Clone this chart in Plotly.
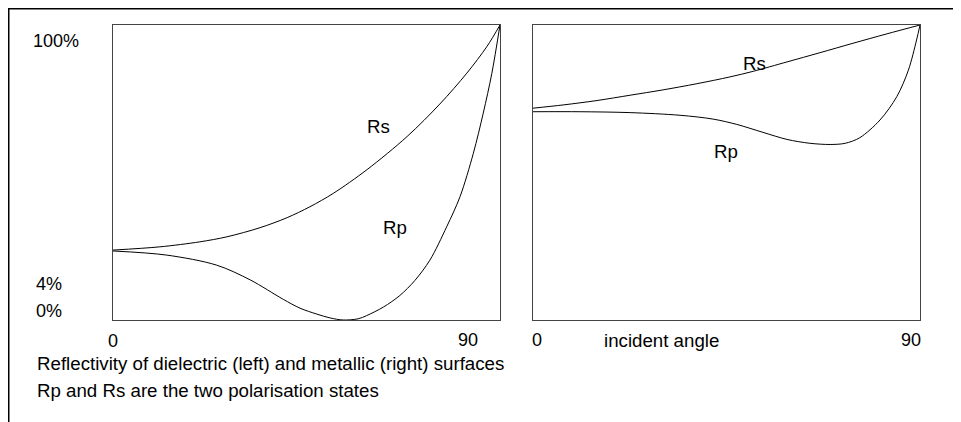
import plotly.graph_objects as go

# ---- data (angle in degrees, reflectivity on the chart's 0-100 scale) ----
diel_rs_angle = [0, 10.9, 20.2, 26.5, 34.2, 40.5, 45.8, 51.2, 59.1, 68.4, 76.0, 82.3, 87.0, 90]
diel_rs_value = [23.7, 24.8, 26.5, 28.2, 31.3, 34.7, 38.4, 42.9, 51.0, 62.2, 73.2, 83.7, 92.8, 100]

diel_rp_angle = [0, 12.5, 24.1, 31.9, 39.6, 43.5, 47.4, 50.5, 53.5, 57.0, 59.0, 62.9, 66.7, 70.2,
                 73.7, 77.6, 80.7, 83.8, 86.1, 88.1, 90]
diel_rp_value = [23.4, 22.0, 18.6, 13.6, 7.0, 4.0, 2.0, 0.7, 0.0, 0.4, 1.5, 4.4, 8.3, 13.4,
                 20.3, 31.6, 41.8, 56.5, 70.1, 83.6, 100]

metal_rs_angle = [0, 7.0, 14.9, 22.6, 30.2, 38.1, 45.8, 51.2, 59.1, 66.7, 74.4, 82.3, 90]
metal_rs_value = [71.8, 72.9, 74.4, 76.2, 78.0, 80.1, 82.4, 84.3, 87.5, 90.6, 93.8, 97.0, 100]

metal_rp_angle = [0, 10.9, 22.6, 34.2, 41.9, 47.4, 53.5, 59.1, 64.4, 69.1, 72.6, 76.0, 80.7, 84.6,
                  87.3, 89.2, 90]
metal_rp_value = [70.6, 70.6, 70.3, 69.4, 68.1, 66.3, 63.6, 61.2, 59.9, 59.5, 59.9, 61.8, 67.8, 75.7,
                  84.7, 94.9, 100]

y_tick_labels = ["100%", "4%", "0%"]
x_tick_labels = ["0", "90"]
x_axis_title = "incident angle"
caption_lines = ["Reflectivity of dielectric (left) and metallic (right) surfaces",
                 "Rp and Rs are the two polarisation states"]

# page is offset by the 8px body margin, so the figure is 8px smaller
OFF = 8
W, H = 961 - OFF, 422 - OFF
FONT = "Liberation Sans, Arial, sans-serif"
FS_NUM = 18
FS_TXT = 18.7


def px(x):
    return (x - OFF) / W


def py(y):
    return 1 - (y - OFF) / H


line_style = dict(color="black", width=1, shape="spline", smoothing=0.9)

fig = go.Figure()
fig.add_trace(go.Scatter(x=diel_rs_angle, y=diel_rs_value, mode="lines", line=line_style,
                         xaxis="x", yaxis="y", hoverinfo="skip"))
fig.add_trace(go.Scatter(x=diel_rp_angle, y=diel_rp_value, mode="lines", line=line_style,
                         xaxis="x", yaxis="y", hoverinfo="skip"))
fig.add_trace(go.Scatter(x=metal_rs_angle, y=metal_rs_value, mode="lines", line=line_style,
                         xaxis="x2", yaxis="y2", hoverinfo="skip"))
fig.add_trace(go.Scatter(x=metal_rp_angle, y=metal_rp_value, mode="lines", line=line_style,
                         xaxis="x2", yaxis="y2", hoverinfo="skip"))

ax_common = dict(showgrid=False, zeroline=False, showticklabels=False, ticks="",
                 showline=True, mirror=True, linecolor="#444", linewidth=1, fixedrange=True)
ydom = [py(320), py(25)]
fig.update_layout(
    width=W, height=H,
    margin=dict(l=0, r=0, t=0, b=0),
    paper_bgcolor="white", plot_bgcolor="white",
    showlegend=False,
    font=dict(family=FONT, size=FS_NUM, color="black"),
    xaxis=dict(domain=[px(113), px(500)], range=[0, 90], anchor="y", **ax_common),
    yaxis=dict(domain=ydom, range=[0, 100], anchor="x", **ax_common),
    xaxis2=dict(domain=[px(533), px(920)], range=[0, 90], anchor="y2", **ax_common),
    yaxis2=dict(domain=ydom, range=[0, 100], anchor="x2", **ax_common),
)

ann = []


def text(t, x, y, size, xanchor="center", xref="paper", yref="paper"):
    ann.append(dict(text=t, x=x, y=y, xref=xref, yref=yref, xanchor=xanchor,
                    yanchor="middle", showarrow=False,
                    font=dict(family=FONT, size=size, color="black")))


# y labels
text(y_tick_labels[0], px(31), py(41), FS_NUM, xanchor="left")
text(y_tick_labels[1], px(34), py(284), FS_NUM, xanchor="left")
text(y_tick_labels[2], px(34), py(310.5), FS_NUM, xanchor="left")
# x labels
text(x_tick_labels[0], px(113), py(341), FS_NUM)
text(x_tick_labels[1], px(468), py(340), FS_NUM)
text(x_tick_labels[0], px(537), py(340), FS_NUM)
text(x_tick_labels[1], px(910.5), py(340), FS_NUM)
text(x_axis_title, px(661.5), py(340), FS_TXT)
# captions
text(caption_lines[0], px(35), py(363), FS_TXT, xanchor="left")
text(caption_lines[1], px(35), py(390), FS_TXT, xanchor="left")
# curve labels (data coordinates)
text("Rs", 61.7, 65.5, FS_TXT, xref="x", yref="y")
text("Rp", 65.5, 31.5, FS_TXT, xref="x", yref="y")
text("Rs", 51.4, 86.8, FS_TXT, xref="x2", yref="y2")
text("Rp", 44.9, 57.0, FS_TXT, xref="x2", yref="y2")

fig.update_layout(annotations=ann)

# outer frame (top and left edges)
fig.add_shape(type="path", xref="paper", yref="paper",
              path=f"M {px(8.75)},{py(422)} L {px(8.75)},{py(8.75)} L {px(961)},{py(8.75)}",
              line=dict(color="black", width=1.5))

fig.write_html("out.html")
